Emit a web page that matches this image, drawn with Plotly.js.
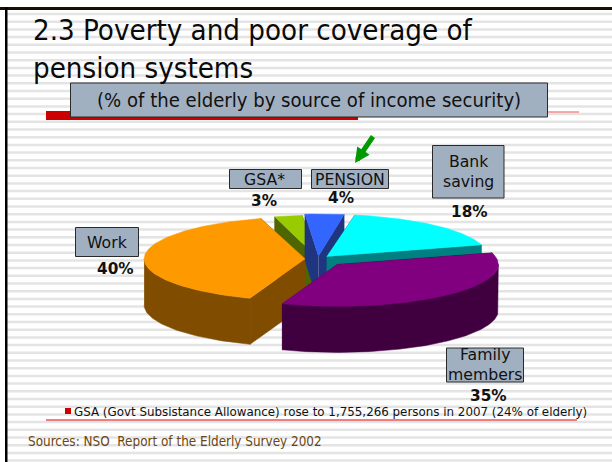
<!DOCTYPE html>
<html>
<head>
<meta charset="utf-8">
<title>Poverty and poor coverage of pension systems</title>
<script src="https://cdn.plot.ly/plotly-3.0.1.min.js"></script>
<style>html,body{margin:0;padding:0;background:#fff;overflow:hidden}#chart{width:612px;height:462px}</style>
</head>
<body>
<div id="chart"></div>
<script>
// Income sources of the elderly, percent, in the order they run round the pie.
const sources = ['Bank saving', 'PENSION', 'GSA*', 'Work', 'Family members'];
const shares = [18, 4, 3, 40, 35];

// Drawing style per slice.
const topColors = ['#00ffff', '#3366ff', '#99cc00', '#ff9900', '#800080'];
const wallColors = ['#008080', '#1f3580', '#4d6600', '#804d00', '#400040'];
const explode = [0.082, 0.07, 0.04, 0.08, 0.176];
const paintOrder = [2, 1, 0, 3, 4];

// Projected pie geometry, in the pixel units of the page-sized axes.
const cx = 318, cy = 259, rx = 161, ry = 42, depth = 46, firstAngle = 16;

const total = shares.reduce((a, b) => a + b, 0);
let running = firstAngle;
const slices = shares.map((v, i) => {
  const from = running, to = running + v / total * 360;
  running = to;
  const mid = (from + to) / 2 * Math.PI / 180;
  const tipX = cx + explode[i] * rx * Math.cos(mid);
  const tipY = cy - explode[i] * ry * Math.sin(mid);
  const arc = [], front = [];
  for (let a = from; a <= to + 1e-6; a += 1) {
    const r = a * Math.PI / 180;
    const p = [tipX + rx * Math.cos(r), tipY - ry * Math.sin(r)];
    arc.push(p);
    if (Math.sin(r) < 0.01) front.push(p);
  }
  return {tipX, tipY, arc, front};
});

function polygon(points, color) {
  return {
    type: 'scatter', mode: 'lines', fill: 'toself', fillcolor: color,
    x: points.map(p => p[0]), y: points.map(p => p[1]),
    line: {width: 0.5, color: color}, hoverinfo: 'skip', showlegend: false
  };
}

const traces = [];
paintOrder.forEach(i => {
  const s = slices[i];
  const tip = [s.tipX, s.tipY];
  const first = s.arc[0], last = s.arc[s.arc.length - 1];
  const drop = p => [p[0], p[1] + depth];
  traces.push(polygon([tip, first, drop(first), drop(tip)], wallColors[i]));
  traces.push(polygon([tip, last, drop(last), drop(tip)], wallColors[i]));
  if (s.front.length > 1) {
    // Only the part of the rim that faces the viewer is extruded.
    traces.push(polygon(s.front.concat(s.front.map(drop).reverse()), wallColors[i]));
  }
  traces.push(polygon([tip].concat(s.arc), topColors[i]));
});

// Ruled-paper stripes behind the slide.
const shapes = [];
for (let y = 14; y < 464; y += 7.7) {
  shapes.push({type: 'line', xref: 'x', yref: 'y', x0: 7, x1: 612, y0: y, y1: y,
    line: {color: '#e4e4e4', width: 2.5}, layer: 'below'});
}

function rect(x0, y0, x1, y1, fill, lineColor, lineWidth, layer) {
  return {type: 'rect', xref: 'x', yref: 'y', x0, y0, x1, y1, fillcolor: fill,
    line: {color: lineColor || fill, width: lineWidth === undefined ? 0 : lineWidth}, layer: layer || 'above'};
}

shapes.push(rect(0, 7, 612, 10, '#151000'));
shapes.push(rect(5, 7, 7.5, 462, '#000000'));
shapes.push({type: 'line', xref: 'x', yref: 'y', x0: 46, x1: 579, y0: 112, y1: 112, line: {color: '#ee5555', width: 1}});
shapes.push(rect(46, 111, 358, 120, '#cc0000'));
shapes.push({type: 'line', xref: 'x', yref: 'y', x0: 46, x1: 577, y0: 420, y1: 420, line: {color: '#ee5555', width: 1.3}});
shapes.push(rect(65, 408, 71, 414, '#cc0000'));

const boxFill = '#a1b0c0', boxEdge = '#2a2a2a';
shapes.push(rect(70.5, 83, 547.5, 117, boxFill, boxEdge, 1));
shapes.push(rect(229.5, 169.5, 301.5, 188.5, boxFill, boxEdge, 1));
shapes.push(rect(311.5, 169.5, 388.5, 188.5, boxFill, boxEdge, 1));
shapes.push(rect(432.5, 145.5, 504, 198, boxFill, boxEdge, 1));
shapes.push(rect(75.5, 227.5, 138.5, 256.5, boxFill, boxEdge, 1));
shapes.push(rect(446.5, 348, 523.5, 382, boxFill, boxEdge, 1));

const sans = 'DejaVu Sans, sans-serif';
const narrow = 'DejaVu Sans Condensed, DejaVu Sans, sans-serif';
function label(x, y, text, size, opts) {
  return Object.assign({xref: 'x', yref: 'y', x, y, text, showarrow: false, xanchor: 'center', yanchor: 'middle',
    font: {family: sans, size, color: '#111'}}, opts || {});
}
const pct = i => '<b>' + shares[i] + '%</b>';
const annotations = [
  label(309, 100, '(% of the elderly by source of income security)', 20.1, {font: {family: narrow, size: 20.1, color: '#111'}}),
  label(264.5, 179, sources[2], 15.7),
  label(350, 179, sources[1], 15.7),
  label(468, 171, 'Bank<br>saving', 15.7),
  label(107, 242, sources[3], 15.7),
  label(485, 364, 'Family<br>members', 15.7),
  label(264, 201, pct(2), 15.3),
  label(341, 198, pct(1), 15.3),
  label(469, 212, pct(0), 15.3),
  label(115, 269, pct(3), 15.3),
  label(488, 396, pct(4), 15.3),
  label(71.5, 412, 'GSA (Govt Subsistance Allowance) rose to 1,755,266 persons in 2007 (24% of elderly)', 11.88, {xanchor: 'left'}),
  label(26, 441, 'Sources: NSO  Report of the Elderly Survey 2002', 13.4, {xanchor: 'left', font: {family: narrow, size: 13.4, color: '#6b4510'}}),
  {xref: 'x', yref: 'y', axref: 'x', ayref: 'y', x: 355, y: 163, ax: 374, ay: 135, text: '', showarrow: true,
    arrowhead: 2, arrowsize: 0.6, arrowwidth: 5, arrowcolor: '#009900'}
];

const layout = {
  width: 612, height: 462, margin: {l: 0, r: 0, t: 0, b: 0},
  paper_bgcolor: '#ffffff', plot_bgcolor: '#ffffff', showlegend: false,
  title: {text: '2.3 Poverty and poor coverage of<br>pension systems', x: 33 / 612, xanchor: 'left', xref: 'paper',
    y: 1 - 40 / 462, yanchor: 'top', yref: 'paper', font: {family: narrow, size: 29.2, color: '#0a0a0a'}},
  xaxis: {range: [0, 612], visible: false, fixedrange: true},
  yaxis: {range: [462, 0], visible: false, fixedrange: true},
  shapes, annotations
};
Plotly.newPlot('chart', traces, layout, {staticPlot: true, displayModeBar: false});
</script>
</body>
</html>
